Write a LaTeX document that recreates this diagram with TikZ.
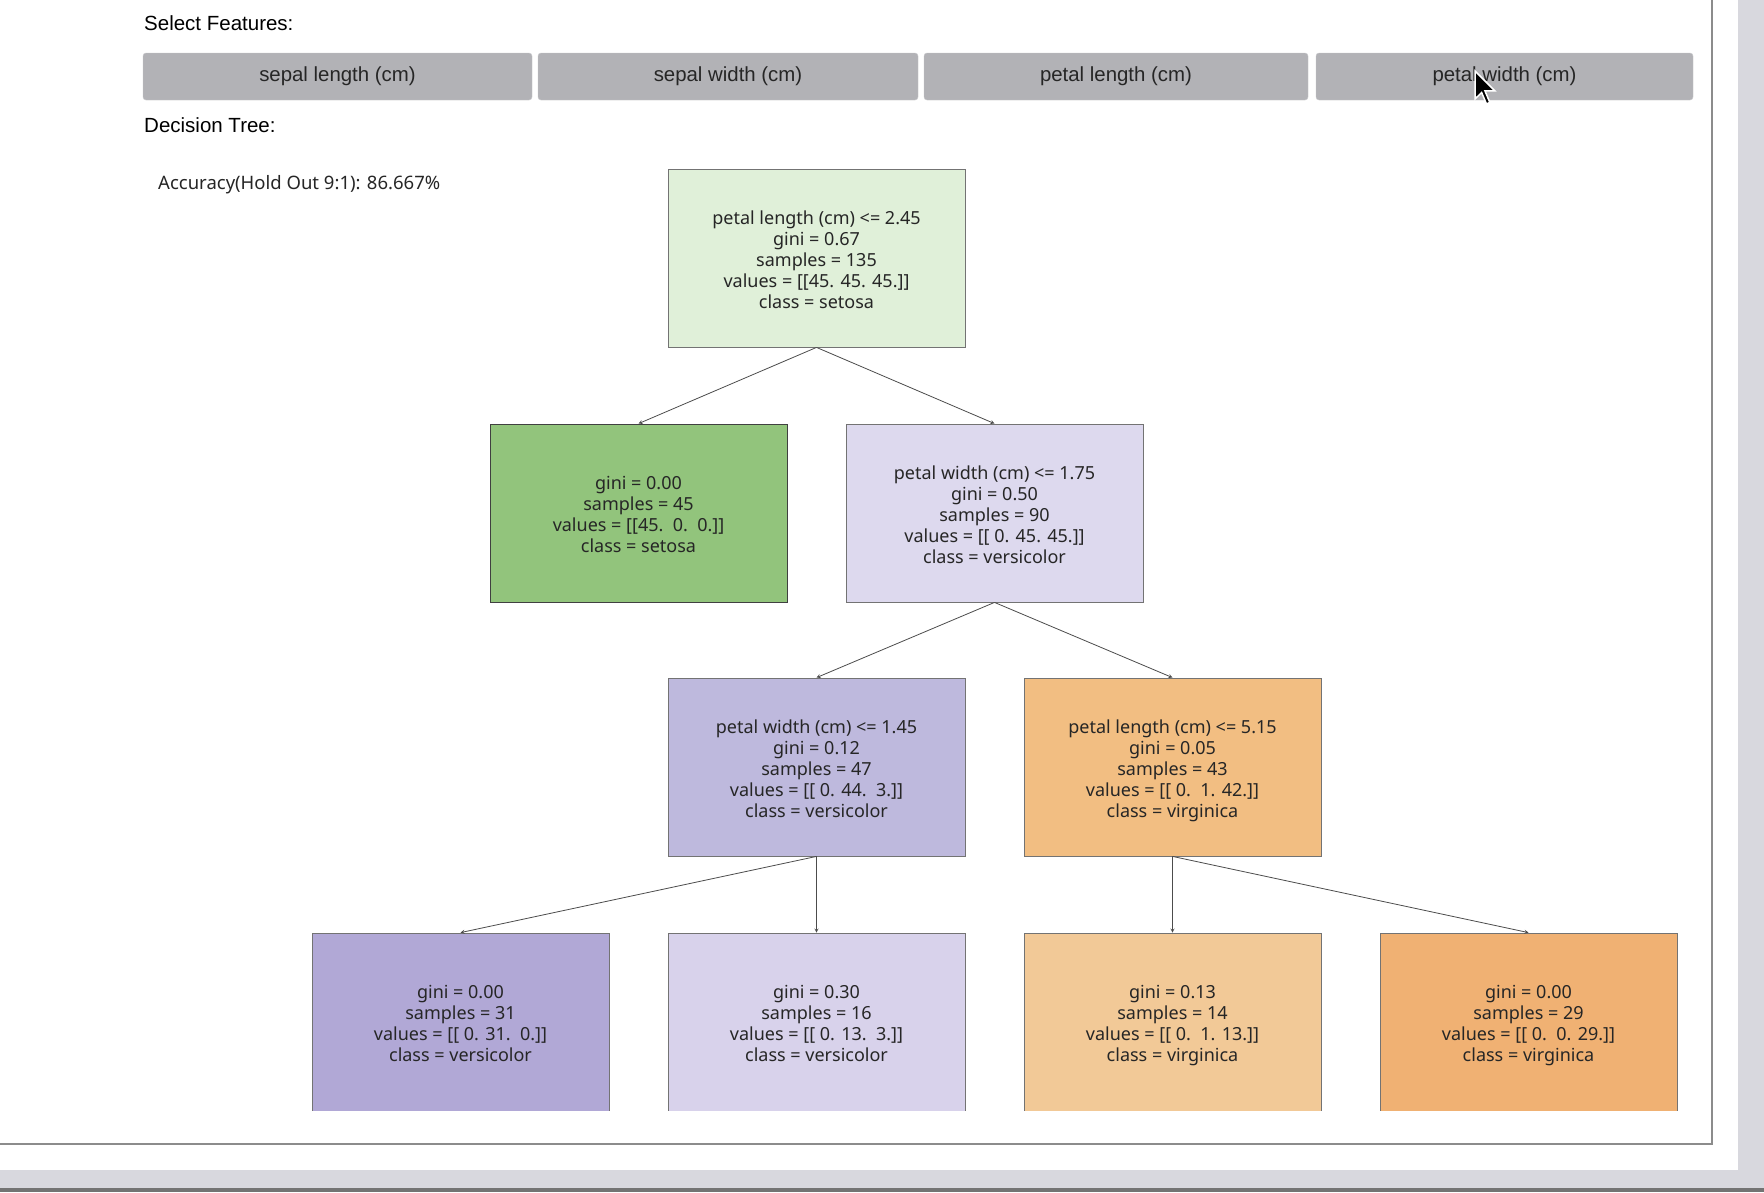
\documentclass[tikz,border=0pt]{standalone}
\usepackage{fontspec}
\setmainfont{Noto Sans}
\newfontfamily\uifont{Liberation Sans}
\usetikzlibrary{arrows}
\definecolor{btngray}{RGB}{178,178,182}
\definecolor{btnedge}{RGB}{200,200,204}
\definecolor{rootgreen}{RGB}{224,240,217}
\definecolor{leafgreen}{RGB}{146,196,124}
\definecolor{lavlight}{RGB}{221,217,238}
\definecolor{lavmid}{RGB}{190,185,221}
\definecolor{lavdark}{RGB}{177,168,214}
\definecolor{lavpale}{RGB}{216,210,235}
\definecolor{orangemid}{RGB}{242,190,130}
\definecolor{orangepale}{RGB}{242,201,151}
\definecolor{orangedeep}{RGB}{240,177,115}
\definecolor{stripgray}{RGB}{216,216,222}
\newcommand{\firstrow}{\rule{0pt}{22.7pt}}
\begin{document}
\begin{tikzpicture}[x=1pt, y=-1pt,
        every node/.style={font=\fontsize{18}{21}\selectfont, text=black!85},
        treebox/.style={rectangle, draw=black!55, line width=0.8pt,
            minimum width=297pt, minimum height=178pt, inner sep=0pt, align=center,
            execute at end node=\strut},
        featbtn/.style={rectangle, rounded corners=3pt, fill=btngray, draw=btnedge,
            minimum height=47pt, inner sep=0pt, text=black!85,
            font=\uifont\fontsize{20.4}{24}\selectfont},
        uilabel/.style={anchor=west, inner sep=0pt, text=black,
            font=\uifont\fontsize{20.5}{24}\selectfont},
        splitarrow/.style={->, >=stealth, line width=0.8pt, draw=black!70}
      ]
      \useasboundingbox (0,0) rectangle (1764,1192);
      \fill[white] (0,0) rectangle (1764,1192);
      \fill[stripgray] (1738,0) rectangle (1764,1192);
      \fill[stripgray] (0,1170) rectangle (1764,1192);
      \fill[black!55] (0,1188) rectangle (1764,1192);
      \draw[black!45, line width=2pt] (0,1144) -- (1712,1144) -- (1712,0);
      \node[uilabel] (selectlbl) at (144,23) {Select Features:};
      \foreach \cx/\bw/\nm/\lbl in {337.5/389/sl/sepal length (cm), 728/380/sw/sepal width (cm),
          1116/384/pl/petal length (cm), 1504.5/377/pw/petal width (cm)}{
          \node[featbtn, minimum width=\bw pt] (btn\nm) at (\cx,76.5) {\lbl};
        }
      \draw[white, line width=1.5pt, fill=black]
        (1475,71) -- (1475,99) -- (1481.6,92.5) -- (1486.5,104) -- (1489.8,102.4)
        -- (1484.9,90.8) -- (1494.8,90.8) -- cycle;
      \node[uilabel] (treelbl) at (144,125) {Decision Tree:};
      \node[anchor=west, inner sep=0pt, font=\fontsize{18.5}{21}\selectfont] (acc) at (158,185)
      {Accuracy(Hold Out 9:1): 86.667\%};
      \node[treebox, fill=rootgreen] (root) at (816.5,258)
      {\firstrow petal length (cm) <= 2.45\\gini = 0.67\\samples = 135\\values = [[45. 45. 45.]]\\class = setosa};
      \node[treebox, fill=leafgreen, draw=black!75] (setosa) at (638.5,513)
      {\firstrow gini = 0.00\\samples = 45\\values = [[45.\ \ 0.\ \ 0.]]\\class = setosa};
      \node[treebox, fill=lavlight] (pwsplit) at (994.5,513)
      {\firstrow petal width (cm) <= 1.75\\gini = 0.50\\samples = 90\\values = [[ 0. 45. 45.]]\\class = versicolor};
      \node[treebox, fill=lavmid] (pwlow) at (816.5,767)
      {\firstrow petal width (cm) <= 1.45\\gini = 0.12\\samples = 47\\values = [[ 0. 44.\ \ 3.]]\\class = versicolor};
      \node[treebox, fill=orangemid] (plsplit) at (1172.5,767)
      {\firstrow petal length (cm) <= 5.15\\gini = 0.05\\samples = 43\\values = [[ 0.\ \ 1. 42.]]\\class = virginica};
      \begin{scope}
        \clip (0,0) rectangle (1764,1110);
        \node[treebox, fill=lavdark] (versa) at (460.5,1022)
        {\firstrow gini = 0.00\\samples = 31\\values = [[ 0. 31.\ \ 0.]]\\class = versicolor};
        \node[treebox, fill=lavpale] (versb) at (816.5,1022)
        {\firstrow gini = 0.30\\samples = 16\\values = [[ 0. 13.\ \ 3.]]\\class = versicolor};
        \node[treebox, fill=orangepale] (virga) at (1172.5,1022)
        {\firstrow gini = 0.13\\samples = 14\\values = [[ 0.\ \ 1. 13.]]\\class = virginica};
        \node[treebox, fill=orangedeep] (virgb) at (1528.5,1022)
        {\firstrow gini = 0.00\\samples = 29\\values = [[ 0.\ \ 0. 29.]]\\class = virginica};
      \end{scope}
      \draw[splitarrow] (root.south) -- (setosa.north);
      \draw[splitarrow] (root.south) -- (pwsplit.north);
      \draw[splitarrow] (pwsplit.south) -- (pwlow.north);
      \draw[splitarrow] (pwsplit.south) -- (plsplit.north);
      \draw[splitarrow] (pwlow.south) -- (versa.north);
      \draw[splitarrow] (pwlow.south) -- (versb.north);
      \draw[splitarrow] (plsplit.south) -- (virga.north);
      \draw[splitarrow] (plsplit.south) -- (virgb.north);
    \end{tikzpicture}
\end{document}
